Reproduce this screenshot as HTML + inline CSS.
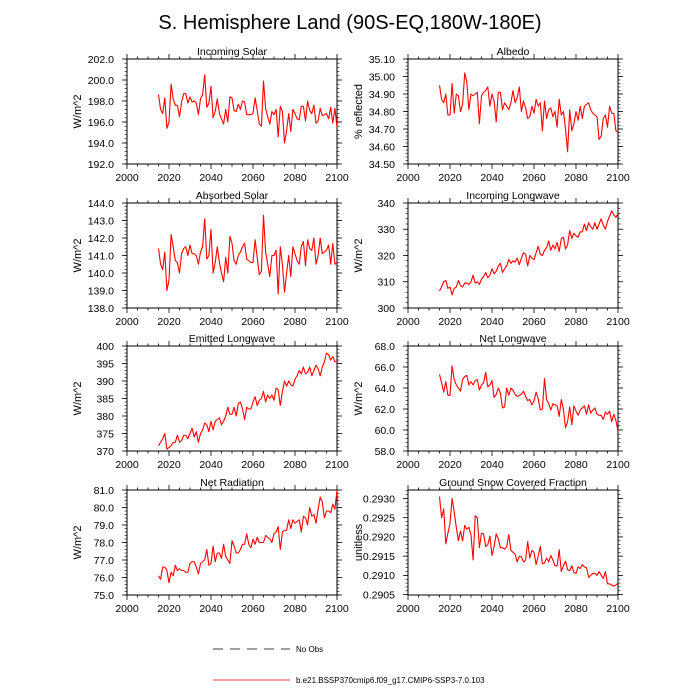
<!DOCTYPE html>
<html><head><meta charset="utf-8"><style>
html,body{margin:0;padding:0;background:#fff;width:700px;height:700px;overflow:hidden}
svg{display:block;font-family:"Liberation Sans",sans-serif}
</style></head><body>
<svg id="chart" width="700" height="700" viewBox="0 0 700 700">
<text x="350" y="29" text-anchor="middle" font-size="20">S. Hemisphere Land (90S-EQ,180W-180E)</text>
<g>
<line x1="213" y1="649" x2="290" y2="649" stroke="#000" stroke-width="0.8" stroke-dasharray="10,7"/>
<text x="296" y="652" font-size="8">No Obs</text>
<line x1="213" y1="680" x2="290" y2="680" stroke="#f00" stroke-width="0.8"/>
<text x="296" y="683" font-size="8">b.e21.BSSP370cmip6.f09_g17.CMIP6-SSP3-7.0.103</text>
</g>
</svg>
<script>
const startYear = 2015;
const xTickLabels = [2000,2020,2040,2060,2080,2100];
const incomingSolar = [198.6,197.2,196.8,198.3,195.4,196.0,199.6,198.2,197.6,197.6,
196.5,197.9,198.7,198.7,197.8,198.4,197.9,198.0,197.8,196.7,
198.2,198.6,200.5,197.4,197.8,199.4,196.4,197.0,198.2,196.8,
196.3,195.8,197.2,196.0,198.4,198.3,197.1,197.0,197.7,197.2,
198.0,197.9,196.7,196.7,196.7,196.8,198.3,197.1,195.8,195.6,
199.9,197.3,196.5,195.8,197.0,196.7,197.2,194.6,197.5,197.0,
194.0,195.2,196.8,195.1,197.2,196.8,196.3,196.2,197.5,197.5,
196.1,198.0,197.1,196.8,197.6,195.9,196.1,197.3,196.6,196.7,
196.8,196.3,197.4,195.9,197.3,195.5];
const albedo = [34.95,34.87,34.85,34.90,34.78,34.78,34.96,34.79,34.90,34.89,
34.80,34.84,35.02,34.97,34.81,34.90,34.89,34.90,34.91,34.73,
34.89,34.91,34.92,34.94,34.83,34.90,34.86,34.74,34.91,34.91,
34.81,34.85,34.83,34.81,34.85,34.92,34.85,34.88,34.94,34.80,
34.86,34.82,34.76,34.77,34.83,34.79,34.87,34.83,34.85,34.69,
34.86,34.76,34.81,34.82,34.77,34.80,34.71,34.87,34.78,34.80,
34.70,34.57,34.81,34.69,34.73,34.80,34.75,34.83,34.76,34.83,
34.84,34.85,34.81,34.79,34.78,34.77,34.64,34.66,34.76,34.78,
34.71,34.83,34.79,34.79,34.69,34.68];
const absorbedSolar = [141.4,140.5,140.2,141.2,139.0,139.6,142.2,141.5,140.7,140.6,
140.0,141.1,141.4,141.5,141.0,141.6,141.1,141.1,141.0,140.5,
141.2,141.5,143.1,140.8,141.0,142.5,140.0,140.6,141.5,140.6,
140.0,139.5,140.9,140.0,142.1,141.7,140.7,140.5,141.0,141.2,
141.5,141.7,140.8,140.7,140.6,140.6,141.9,140.9,139.9,140.1,
143.3,141.2,140.5,139.8,141.0,141.0,141.3,138.8,141.5,140.5,
138.9,140.0,141.0,139.8,141.5,141.1,140.7,140.5,141.5,141.8,
140.4,141.9,141.4,141.3,142.0,140.5,141.0,142.0,141.1,141.2,
141.3,141.6,140.5,141.7,140.5,140.6];
const incomingLW = [306.5,308.0,310.0,310.5,307.5,308.0,305.0,307.5,308.0,310.5,
308.5,308.0,309.5,309.5,309.0,310.0,312.5,309.5,310.0,309.0,
311.0,312.0,313.5,311.5,312.5,315.0,313.0,314.0,316.0,317.0,
313.5,315.0,316.0,318.5,317.0,318.0,317.5,319.0,316.5,319.0,
321.0,320.5,316.0,320.0,319.0,318.5,321.0,323.5,320.5,320.0,
322.0,323.0,325.5,322.0,324.0,322.5,325.0,321.5,326.5,327.0,
322.5,324.0,329.5,326.5,328.5,327.5,327.0,329.0,329.0,332.0,
329.5,332.5,331.0,330.0,332.5,330.0,332.0,334.0,331.5,330.0,
333.0,335.0,337.0,335.5,334.5,336.0];
const emittedLW = [371.5,372.5,373.5,375.0,370.5,371.0,371.5,372.5,372.5,374.5,
372.5,373.0,374.5,374.5,373.5,375.0,376.5,374.0,375.5,372.5,
375.0,376.0,378.0,377.5,375.5,378.5,376.0,378.5,379.0,379.5,
377.5,378.5,380.0,382.5,380.5,380.5,382.5,380.0,383.5,384.0,
382.0,379.0,382.5,382.0,382.0,384.0,385.5,383.0,384.5,385.0,
387.0,384.0,386.0,385.0,386.0,384.5,388.0,387.5,383.0,387.0,
390.0,388.5,390.0,389.0,388.5,390.5,391.5,393.0,392.0,394.0,
392.0,392.5,394.0,391.5,393.0,394.5,393.5,391.5,394.0,395.5,
398.0,397.5,396.0,397.0,395.5,395.5];
const netLW = [65.3,64.5,63.6,64.6,63.3,63.3,66.1,64.8,64.3,64.0,
63.7,64.8,65.1,65.2,64.3,64.6,64.3,64.7,64.8,63.8,
64.3,64.5,65.5,64.1,64.3,64.7,63.1,63.4,64.0,63.5,
62.1,62.2,64.0,63.3,64.0,63.8,63.4,63.2,63.3,63.4,
63.7,63.2,62.8,62.9,62.4,62.8,63.6,63.0,61.9,62.0,
64.9,62.9,62.5,61.9,62.5,62.4,62.3,61.3,62.9,62.0,
60.2,60.8,62.2,60.5,62.3,61.8,61.4,61.9,62.1,62.3,
61.5,62.4,61.6,61.9,62.1,61.5,61.4,61.4,61.0,61.7,
61.5,61.8,60.8,61.5,60.9,59.9];
const netRadiation = [76.1,75.9,76.6,76.6,76.4,75.7,76.3,76.1,76.7,76.4,
76.5,76.4,76.4,76.3,76.3,76.8,76.9,76.9,76.6,76.2,
76.8,76.9,77.0,77.6,76.7,76.8,77.8,76.9,77.4,77.4,
77.1,77.9,77.2,77.0,76.8,78.1,77.8,77.4,77.4,77.6,
77.9,77.9,78.5,77.9,77.7,78.2,77.9,78.3,78.0,78.0,
78.0,78.4,78.3,78.2,78.0,78.5,78.6,78.9,77.6,78.6,
78.7,78.7,79.3,78.8,79.3,79.1,79.2,79.3,78.6,79.5,
79.4,79.0,80.0,79.5,79.6,79.1,79.9,80.6,80.3,79.4,
79.8,79.8,79.7,80.2,79.9,81.0];
const snowFraction = [0.29305,0.29250,0.29273,0.29182,0.29210,0.29235,0.29300,0.29265,0.29225,0.29190,
0.29215,0.29190,0.29230,0.29220,0.29225,0.29205,0.29140,0.29255,0.29250,0.29172,
0.29210,0.29208,0.29175,0.29180,0.29202,0.29152,0.29175,0.29208,0.29195,0.29172,
0.29172,0.29168,0.29175,0.29206,0.29165,0.29160,0.29155,0.29135,0.29150,0.29148,
0.29135,0.29140,0.29188,0.29145,0.29165,0.29160,0.29128,0.29150,0.29175,0.29130,
0.29132,0.29145,0.29135,0.29152,0.29140,0.29125,0.29125,0.29167,0.29110,0.29125,
0.29137,0.29115,0.29112,0.29125,0.29108,0.29105,0.29122,0.29118,0.29128,0.29122,
0.29120,0.29095,0.29100,0.29105,0.29105,0.29100,0.29110,0.29100,0.29092,0.29110,
0.29078,0.29078,0.29075,0.29072,0.29075,0.29080];
const yTicksIS=[192,194,196,198,200,202];
const yTicksAlb=[34.5,34.6,34.7,34.8,34.9,35.0,35.1];
const yTicksAbs=[138,139,140,141,142,143,144];
const yTicksILW=[300,310,320,330,340];
const yTicksELW=[370,375,380,385,390,395,400];
const yTicksNLW=[58,60,62,64,66,68];
const yTicksNR=[75,76,77,78,79,80,81];
const yTicksSnow=[0.2905,0.2910,0.2915,0.2920,0.2925,0.2930];

const panels=[
 {name:'incoming-solar',title:'Incoming Solar',yt:'W/m^2',data:incomingSolar,ticks:yTicksIS,min:192,max:202,dec:1,col:0,row:0},
 {name:'albedo',title:'Albedo',yt:'% reflected',data:albedo,ticks:yTicksAlb,min:34.5,max:35.1,dec:2,col:1,row:0},
 {name:'absorbed-solar',title:'Absorbed Solar',yt:'W/m^2',data:absorbedSolar,ticks:yTicksAbs,min:138,max:144,dec:1,col:0,row:1},
 {name:'incoming-longwave',title:'Incoming Longwave',yt:'W/m^2',data:incomingLW,ticks:yTicksILW,min:300,max:340,dec:0,col:1,row:1},
 {name:'emitted-longwave',title:'Emitted Longwave',yt:'W/m^2',data:emittedLW,ticks:yTicksELW,min:370,max:400,dec:0,col:0,row:2},
 {name:'net-longwave',title:'Net Longwave',yt:'W/m^2',data:netLW,ticks:yTicksNLW,min:58,max:68,dec:1,col:1,row:2},
 {name:'net-radiation',title:'Net Radiation',yt:'W/m^2',data:netRadiation,ticks:yTicksNR,min:75,max:81,dec:1,col:0,row:3},
 {name:'snow-fraction',title:'Ground Snow Covered Fraction',yt:'unitless',data:snowFraction,ticks:yTicksSnow,min:0.29049,max:0.29322,dec:4,col:1,row:3}
];
const svg=document.getElementById('chart');
const NS='http://www.w3.org/2000/svg';
function mk(tag,attrs,parent){const e=document.createElementNS(NS,tag);for(const k in attrs)e.setAttribute(k,attrs[k]);parent.appendChild(e);return e;}
const colX=[127,408], W=210, rowY=[59,203,346,490], H=105;
panels.forEach(p=>{
 const x0=colX[p.col], y0=rowY[p.row];
 const g=mk('g',{},svg);
 
 
 const xs=v=>x0+(v-2000)/100*W;
 const ys=v=>y0+H-(v-p.min)/(p.max-p.min)*H;
 const t=mk('text',{x:x0+W/2,y:y0-4,'text-anchor':'middle','font-size':'10.5'},g);
 t.textContent=p.title;
 
 
 const yl=mk('text',{x:0,y:0,'text-anchor':'middle','font-size':'11',transform:`translate(${x0-46},${y0+H/2}) rotate(-90)`},g);
 yl.textContent=p.yt;
 
 
 for(let v=2000;v<=2100;v+=5){
  const X=xs(v), major=v%20===0, L=major?5:2.5;
  mk('line',{x1:X,y1:y0+H,x2:X,y2:y0+H+L,stroke:'#000','stroke-width':0.8},g);
  mk('line',{x1:X,y1:y0,x2:X,y2:y0-L,stroke:'#000','stroke-width':0.8},g);
 }
 xTickLabels.forEach(v=>{
  const tl=mk('text',{x:xs(v),y:y0+H+17,'text-anchor':'middle','font-size':'10.5'},g);
  tl.textContent=v;
  
  
 });
 const tk=p.ticks, step=tk[1]-tk[0];
 for(let i=0;i<tk.length;i++){
  const Y=ys(tk[i]);
  mk('line',{x1:x0,y1:Y,x2:x0-5,y2:Y,stroke:'#000','stroke-width':0.8},g);
  mk('line',{x1:x0+W,y1:Y,x2:x0+W+5,y2:Y,stroke:'#000','stroke-width':0.8},g);
  const yl2=mk('text',{x:x0-13,y:Y+3.8,'text-anchor':'end','font-size':'10.5'},g);
  yl2.textContent=tk[i].toFixed(p.dec);
  
  
 }
 for(let v=tk[0]-step;v<=tk[tk.length-1]+step;v+=step/5){
  if(v<p.min-1e-9||v>p.max+1e-9) continue;
  const Y=ys(v);
  mk('line',{x1:x0,y1:Y,x2:x0-2.5,y2:Y,stroke:'#000','stroke-width':0.6},g);
  mk('line',{x1:x0+W,y1:Y,x2:x0+W+2.5,y2:Y,stroke:'#000','stroke-width':0.6},g);
 }
 mk('rect',{x:x0,y:y0,width:W,height:H,fill:'none',stroke:'#000','stroke-width':1},g);
 const pts=p.data.map((v,i)=>xs(startYear+i).toFixed(2)+','+ys(v).toFixed(2)).join(' ');
 const pl=mk('polyline',{points:pts,fill:'none',stroke:'#f00','stroke-width':1.1,'stroke-linejoin':'round'},g);
 
 
});
</script>
</body></html>
